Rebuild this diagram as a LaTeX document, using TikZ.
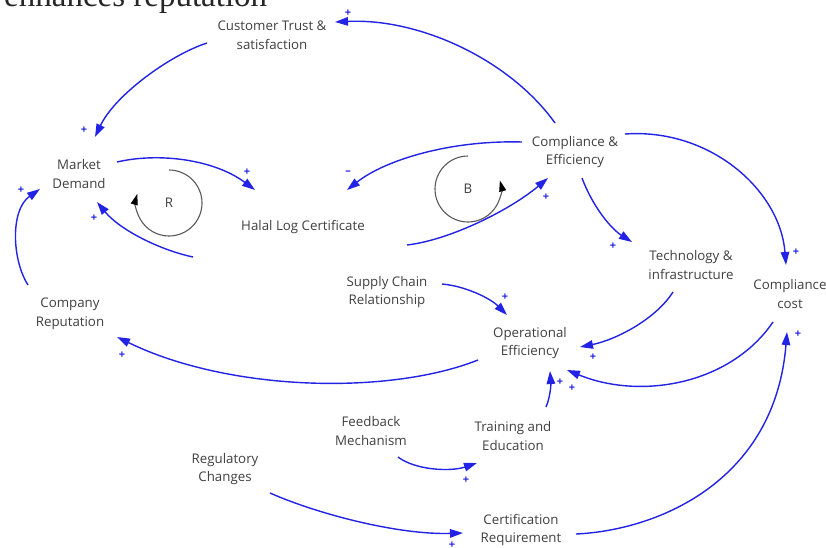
\documentclass[tikz,border=0pt]{standalone}
\usepackage{fontspec}
\setmainfont{Open Sans}
\newfontfamily\serifbig{Liberation Serif}
\usetikzlibrary{arrows.meta,calc}
\definecolor{cldblue}{RGB}{35,35,230}
\definecolor{txtgrey}{RGB}{64,64,64}
\begin{document}
\begin{tikzpicture}[x=1pt,y=-1pt,
  var/.style={align=center, text=txtgrey, font=\fontsize{13.3}{18.5}\selectfont, inner sep=0pt},
  link/.style={draw=cldblue, line width=1.4pt, -{Triangle[length=13pt,width=8.5pt]}},
  pol/.style={text=cldblue, font=\fontsize{11}{11}\selectfont\bfseries, inner sep=0pt},
  loopc/.style={draw=black!65, line width=1.1pt, -{Triangle[length=11pt,width=7pt,black]}},
  heading/.style={anchor=base west, text=black!85, font=\serifbig\fontsize{33}{36}\selectfont, inner sep=0pt}]
\useasboundingbox (0,0) rectangle (826,547);
\fill[white] (0,0) rectangle (826,547);

% cut-off heading
\node[heading] (hd) at (4,6) {enhances reputation};

% variables
\node[var] (ct) at (272,35)  {Customer Trust \&\\satisfaction};
\node[var] (md) at (79,174)  {Market\\Demand};
\node[var] (hl) at (303,227) {Halal Log Certificate};
\node[var] (ce) at (575,152) {Compliance \&\\Efficiency};
\node[var] (te) at (691,265) {Technology \&\\infrastructure};
\node[var] (cc) at (790,294) {Compliance\\cost};
\node[var] (sc) at (387,292) {Supply Chain\\Relationship};
\node[var] (oe) at (530,343) {Operational\\Efficiency};
\node[var] (cr) at (70,314)  {Company\\Reputation};
\node[var] (fm) at (371,431) {Feedback\\Mechanism};
\node[var] (tr) at (513,436) {Training and\\Education};
\node[var] (rc) at (225,469) {Regulatory\\Changes};
\node[var] (cq) at (521,530) {Certification\\Requirement};

% loop markers
\node[var] (rl) at (169,203) {R};
\draw[loopc] ($(rl)+(0,-33)$) arc[start angle=-90, end angle=196, radius=33];
\node[var] (bl) at (468,189) {B};
\draw[loopc] ($(bl)+(0,-33)$) arc[start angle=270, end angle=-15, radius=33];

% links
\draw[link] ($(ce)+(-20,-29)$) .. controls +(-45,-63) and +(85,-4) .. ($(ct)+(63,-13)$);
\draw[link] ($(ct)+(-65,8)$) .. controls +(-37,12) and +(20,-42) .. ($(md)+(16,-37)$);
\draw[link] ($(md)+(38,-12)$) .. controls +(43,-10) and +(-40,-30) .. ($(hl)+(-48,-37)$);
\draw[link] ($(hl)+(-110,30)$) .. controls +(-33,-7) and +(23,28) .. ($(md)+(18,28)$);
\draw[link] ($(ce)+(-53,-10)$) .. controls +(-72,-2) and +(38,-30) .. ($(hl)+(44,-37)$);
\draw[link] ($(hl)+(104,18)$) .. controls +(43,-5) and +(-38,32) .. ($(ce)+(-27,26)$);
\draw[link] ($(ce)+(7,26)$) .. controls +(10,27) and +(-22,-14) .. ($(te)+(-59,-23)$);
\draw[link] ($(ce)+(50,-18)$) .. controls +(85,-6) and +(-6,-75) .. ($(cc)+(-4,-29)$);
\draw[link] ($(sc)+(55,-8)$) .. controls +(23,2) and +(-17,-17) .. ($(oe)+(-23,-28)$);
\draw[link] ($(te)+(-18,27)$) .. controls +(-18,28) and +(35,-7) .. ($(oe)+(50,4)$);
\draw[link] ($(cc)+(-17,28)$) .. controls +(-43,63) and +(73,30) .. ($(oe)+(37,27)$);
\draw[link] ($(tr)+(33,-29)$) .. controls +(4,-9) and +(1,14) .. ($(oe)+(20,28)$);
\draw[link] ($(oe)+(-52,17)$) .. controls +(-88,35) and +(113,55) .. ($(cr)+(47,23)$);
\draw[link] ($(cr)+(-42,-29)$) .. controls +(-16,-25) and +(-30,21) .. ($(md)+(-39,15)$);
\draw[link] ($(fm)+(27,26)$) .. controls +(17,13) and +(-27,9) .. ($(tr)+(-36,27)$);
\draw[link] ($(rc)+(45,24)$) .. controls +(50,22) and +(-63,2) .. ($(cq)+(-58,3)$);
\draw[link] ($(cq)+(55,4)$) .. controls +(84,-4) and +(-12,148) .. ($(cc)+(-3,38)$);

% polarities
\node[pol] (p1)  at (348,13)  {+};
\node[pol] (p2)  at (84,130)  {+};
\node[pol] (p3)  at (247,172) {+};
\node[pol] (p4)  at (94,218)  {+};
\node[pol] (m1)  at (348,173) {–};
\node[pol] (p5)  at (546,197) {+};
\node[pol] (p6)  at (613,246) {+};
\node[pol] (p7)  at (796,252) {+};
\node[pol] (p8)  at (505,297) {+};
\node[pol] (p9)  at (593,357) {+};
\node[pol] (p10) at (560,382) {+};
\node[pol] (p11) at (572,388) {+};
\node[pol] (p12) at (798,334) {+};
\node[pol] (p13) at (122,355) {+};
\node[pol] (p14) at (21,190)  {+};
\node[pol] (p15) at (466,480) {+};
\node[pol] (p16) at (452,545) {+};
\end{tikzpicture}
\end{document}
